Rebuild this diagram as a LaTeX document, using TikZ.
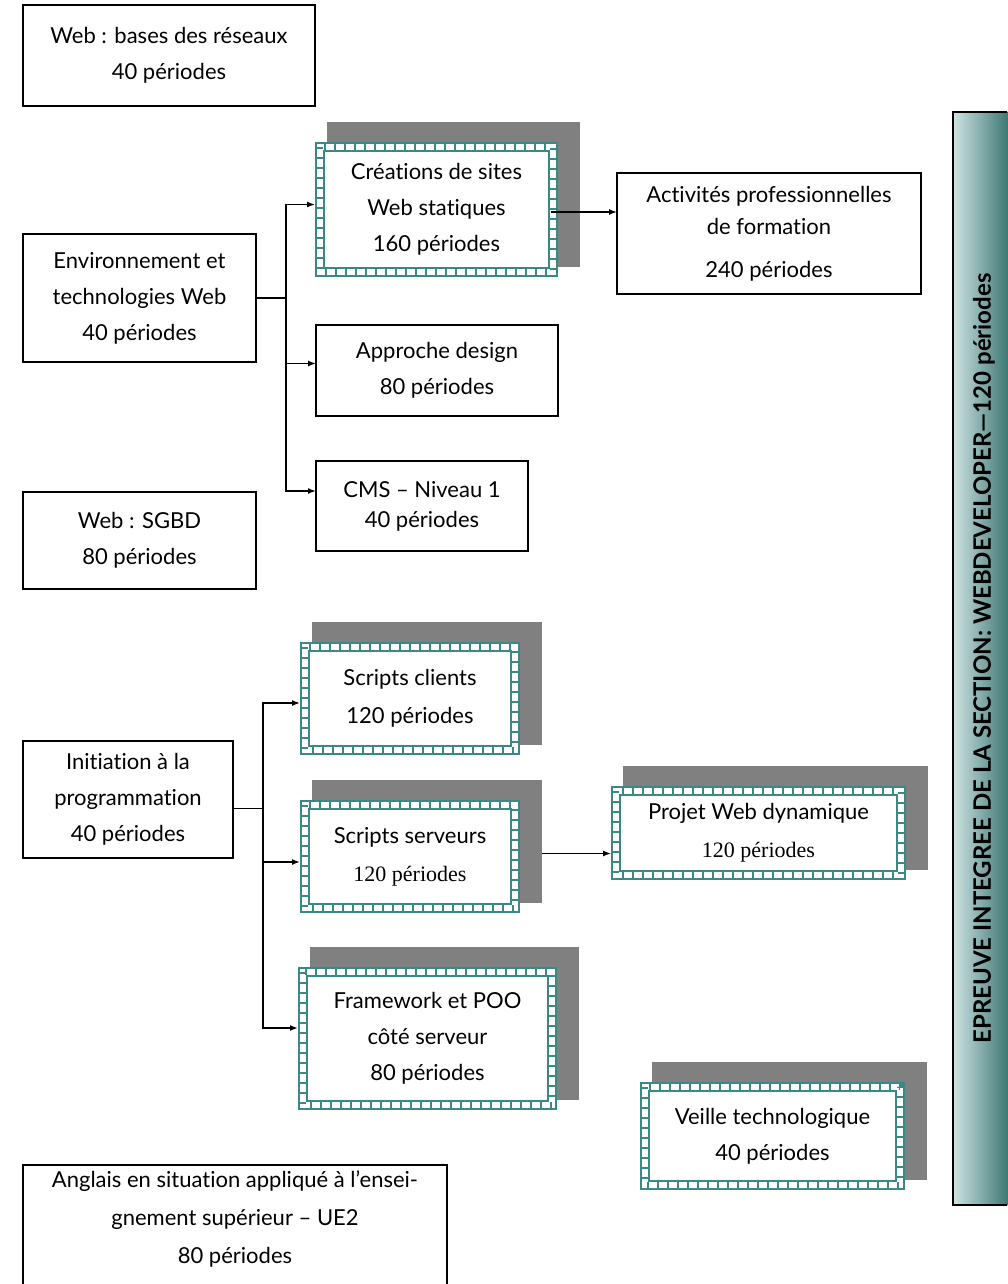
\documentclass[tikz,border=0pt]{standalone}
\usepackage{fontspec}
\setmainfont{Lato}[Ligatures=NoCommon]
\newfontfamily\serifnum{Liberation Serif}
\usetikzlibrary{arrows.meta,calc}
\pgfdeclarelayer{background}
\pgfsetlayers{background,main}
\definecolor{patteal}{HTML}{3A8984}
\definecolor{shadowgray}{HTML}{808080}
\definecolor{barlight}{HTML}{D0E4E4}
\definecolor{bardark}{HTML}{2D6C68}
\tikzset{
  boxfont/.style={font=\fontsize{22}{36}\selectfont},
  plainbox/.style={draw=black, line width=1.8pt, fill=white, inner sep=0pt, outer sep=0pt, align=center, anchor=north west, boxfont},
  patbox/.style={inner sep=0pt, outer sep=0pt, align=center, anchor=north west, fill=white, boxfont},
  arr/.style={line width=1.5pt, -{Latex[length=8pt,width=6pt]}},
  conn/.style={line width=1.5pt},
}
\newcommand\patframe[1]{%
  \begin{pgfonlayer}{background}
    \fill[shadowgray] ($(#1.north west)+(12,-20)$) rectangle ($(#1.south east)+(22,-10)$);
  \end{pgfonlayer}
  \draw[patteal, line width=10pt] ($(#1.north west)+(5,5)$) rectangle ($(#1.south east)+(-5,-5)$);
  \draw[white, line width=5.6pt] ($(#1.north west)+(5,5)$) rectangle ($(#1.south east)+(-5,-5)$);
  \draw[patteal, line width=5.6pt, dash pattern=on 2pt off 8pt] ($(#1.north west)+(5,5)$) rectangle ($(#1.south east)+(-5,-5)$);
}
\begin{document}
\begin{tikzpicture}[x=1pt,y=-1pt]
\useasboundingbox (0,0) rectangle (1007,1284);
\begin{pgfonlayer}{background}
  \fill[white] (0,0) rectangle (1007,1284);
\end{pgfonlayer}
\clip (0,0) rectangle (1007,1284);

% plain boxes
\node[plainbox, minimum width=292, minimum height=101] (web) at (23,5) {Web : bases des réseaux\\40 périodes};
\node[plainbox, minimum width=233, minimum height=128] (env) at (23,234) {Environnement et\\technologies Web\\40 périodes};
\node[plainbox, minimum width=304, minimum height=121, font=\fontsize{22}{32}\selectfont] (act) at (617,173) {Activités professionnelles\\de formation\\[11pt]240 périodes};
\node[plainbox, minimum width=242, minimum height=91] (app) at (316,325) {Approche design\\80 périodes};
\node[plainbox, minimum width=212, minimum height=90, font=\fontsize{22}{30}\selectfont] (cms) at (316,461) {CMS – Niveau 1\\40 périodes};
\node[plainbox, minimum width=233, minimum height=97] (sgbd) at (23,492) {Web : SGBD\\80 périodes};
\node[plainbox, minimum width=210, minimum height=117] (ini) at (23,741) {Initiation à la\\programmation\\40 périodes};

% patterned boxes
\node[patbox, minimum width=243, minimum height=135] (cre) at (315,142) {Créations de sites\\Web statiques\\160 périodes};
\patframe{cre}
\node[patbox, minimum width=220, minimum height=113, font=\fontsize{22}{38}\selectfont] (scl) at (300,642) {Scripts clients\\120 périodes};
\patframe{scl}
\node[patbox, minimum width=220, minimum height=113, font=\fontsize{22}{38}\selectfont] (ser) at (300,800) {Scripts serveurs\\{\serifnum\fontsize{22}{38}\selectfont 120 périodes}};
\patframe{ser}
\node[patbox, minimum width=295, minimum height=94, font=\fontsize{22}{38}\selectfont] (proj) at (611,786) {Projet Web dynamique\\{\serifnum\fontsize{22}{38}\selectfont 120 périodes}};
\patframe{proj}
\node[patbox, minimum width=259, minimum height=143] (fw) at (298,967) {Framework et POO\\côté serveur\\80 périodes};
\patframe{fw}
\node[patbox, minimum width=265, minimum height=108] (vei) at (640,1082) {Veille technologique\\40 périodes};
\patframe{vei}

% Anglais box (runs off the bottom edge)
\node[inner sep=0pt, outer sep=0pt, align=center, anchor=north west, minimum width=424, minimum height=108, font=\fontsize{22}{38}\selectfont] (ang) at (23,1165) {Anglais en situation appliqué à l’ensei-\\gnement supérieur – UE2\\80 périodes};
\draw[line width=1.8pt] ($(ang.south west)+(0,30)$) -- (ang.north west) -- (ang.north east) -- ($(ang.south east)+(0,30)$);

% vertical bar: gradient from light (left) to dark (right)
\begin{pgfonlayer}{background}
  \foreach \i in {0,...,61} {
    \pgfmathtruncatemacro\pct{100-100*\i/61}
    \fill[barlight!\pct!bardark] (953+\i,112) rectangle (954.3+\i,1205);
  }
\end{pgfonlayer}
\node[rotate=90, draw=black, line width=2pt, minimum width=1093, minimum height=62, inner sep=0pt, font=\bfseries\fontsize{24}{24}\selectfont] (bar) at (984,658.5) {EPREUVE INTEGREE DE LA SECTION: WEBDEVELOPER—120 périodes};

% connectors group 1
\coordinate (t1) at (286,0);
\draw[conn] (env.east) -- (env.east -| t1);
\draw[arr] (env.east -| t1) |- ($(cre.west)+(0,-5)$);
\draw[arr] (env.east -| t1) |- ($(app.west)+(0,-7)$);
\draw[arr] (env.east -| t1) |- ($(cms.west)+(0,-15)$);
\coordinate (s1) at ($(cre.east)+(-7,2.5)$);
\draw[arr] (s1) -- (s1 -| act.west);

% connectors group 2
\coordinate (t2) at (263,0);
\coordinate (s2) at ($(ini.east)+(0,9)$);
\draw[conn] (s2) -- (s2 -| t2);
\draw[arr] (s2 -| t2) |- ($(scl.west)+(0,4.5)$);
\draw[arr] (s2 -| t2) |- ($(ser.west)+(0,5.5)$);
\draw[arr] (s2 -| t2) |- ($(fw.west)+(0,-10.5)$);
\coordinate (s3) at ($(ser.east)+(22,-3)$);
\draw[arr] (s3) -- (s3 -| proj.west);
\end{tikzpicture}
\end{document}
